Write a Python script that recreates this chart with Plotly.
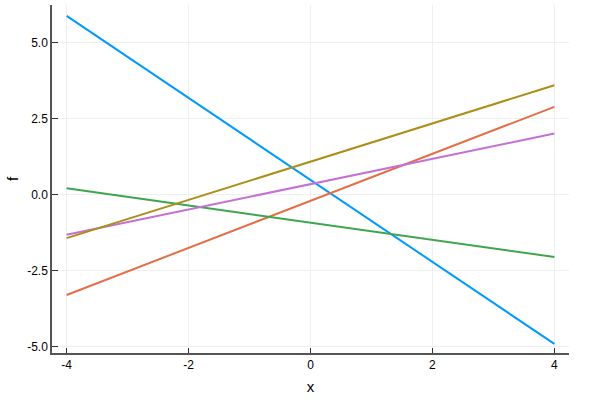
import plotly.graph_objects as go

x_vals = [-4, 4]
series_y = [
    [5.89, -4.90],
    [-3.29, 2.90],
    [0.22, -2.04],
    [-1.31, 2.02],
    [-1.42, 3.61],
]
colors = ["#009AFA", "#E36F47", "#3EA44E", "#C371D2", "#AC8E18"]
x_ticks = [-4, -2, 0, 2, 4]
x_tick_text = ["-4", "-2", "0", "2", "4"]
y_ticks = [-5.0, -2.5, 0.0, 2.5, 5.0]
y_tick_text = ["-5.0", "-2.5", "0.0", "2.5", "5.0"]

fig = go.Figure()
for ys, c in zip(series_y, colors):
    fig.add_trace(go.Scatter(x=x_vals, y=ys, mode="lines",
                             line=dict(color=c, width=2), showlegend=False))

font = dict(family="Liberation Sans, Arial, sans-serif", color="black")
fig.update_layout(
    width=592, height=402,
    margin=dict(l=52, r=23, t=5, b=49),
    paper_bgcolor="white", plot_bgcolor="white",
    font=dict(**font, size=12),
    xaxis=dict(range=[-4.24, 4.24], tickvals=x_ticks, ticktext=x_tick_text,
               automargin=False,
               showline=True, linecolor="#555555", linewidth=1.5,
               ticks="inside", ticklen=5, tickcolor="#333333",
               showgrid=True, gridcolor="#efefef", gridwidth=1, zeroline=False,
               title=dict(text="x", font=dict(size=15), standoff=10)),
    yaxis=dict(range=[-5.2, 6.25], tickvals=y_ticks, ticktext=y_tick_text,
               automargin=False,
               showline=True, linecolor="#555555", linewidth=1.5,
               ticks="inside", ticklen=6, tickcolor="#333333",
               showgrid=True, gridcolor="#efefef", gridwidth=1, zeroline=False,
               title=dict(text="f", font=dict(size=15), standoff=5)),
)
fig.write_html("out.html", config={"displayModeBar": False},
               post_script="document.body.style.margin='0';document.body.style.overflow='hidden';")
